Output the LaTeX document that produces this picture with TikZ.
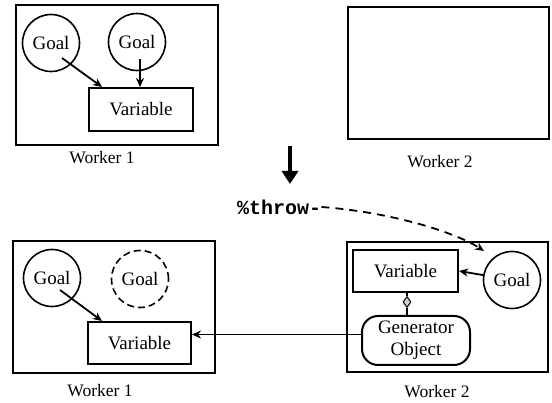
\documentclass[tikz,border=0pt]{standalone}
\usepackage{fontspec}
\setmainfont{Liberation Serif}
\setmonofont{Liberation Mono}
\usetikzlibrary{arrows.meta,shapes.geometric,calc}
\begin{document}
\begin{tikzpicture}[x=1pt,y=-1pt,
  worker/.style={draw,line width=2.6pt,inner sep=0pt},
  goal/.style={draw,circle,line width=1.6pt,minimum size=57pt,inner sep=0pt,font=\fontsize{19}{21}\selectfont},
  var/.style={draw,rectangle,line width=2pt,inner sep=0pt,font=\fontsize{19}{21}\selectfont},
  caption/.style={font=\fontsize{17.5}{20}\selectfont,inner sep=0pt},
  arr/.style={line width=1.8pt,-{Stealth[length=9pt,width=8pt]}}]
\useasboundingbox (0,0) rectangle (552,403);

% workers before the throw
\node[worker,minimum width=202pt,minimum height=140pt] (w1a) at (117,75) {};
\node[worker,minimum width=201pt,minimum height=132pt] (w2a) at (448.5,73) {};
\node[caption] (c1a) at (102,158) {Worker 1};
\node[caption] (c2a) at (440,162) {Worker 2};

\node[goal] (g1) at (51,43) {Goal};
\node[goal] (g2) at (137,42) {Goal};
\node[var,minimum width=104pt,minimum height=43pt] (v1) at (141,109.5) {Variable};
\draw[arr] ([shift={(11,15)}]g1.center) -- ([xshift=14pt]v1.north west);
\draw[arr] ([shift={(3,17)}]g2.center) -- ([xshift=-1pt]v1.north);

% transition
\coordinate (dtop) at (290,146);
\coordinate (dbot) at (290,184);
\draw[line width=4.5pt,-{Triangle[length=13pt,width=16pt]}] (dtop) -- (dbot);
\node[font=\ttfamily\bfseries\fontsize{20}{22}\selectfont,inner sep=0pt,anchor=west] (throw) at (237,207) {\%throw-};

% workers after the throw
\node[worker,minimum width=202pt,minimum height=132pt] (w1b) at (114,307) {};
\node[worker,minimum width=201pt,minimum height=130pt] (w2b) at (447.5,307) {};
\node[caption] (c1b) at (100,391) {Worker 1};
\node[caption] (c2b) at (437,392) {Worker 2};

\node[goal] (g3) at (52,278) {Goal};
\node[goal,dashed,dash pattern=on 7pt off 4pt] (g4) at (140,279) {Goal};
\node[var,minimum width=103pt,minimum height=42pt] (v2) at (139.5,343) {Variable};
\draw[arr] ([shift={(8,12)}]g3.center) -- ([xshift=15pt]v2.north west);

\node[var,minimum width=105pt,minimum height=42pt] (v3) at (405.5,271) {Variable};
\node[goal] (g5) at (512,280) {Goal};
\node[draw,rounded corners=16pt,line width=2pt,minimum width=108pt,minimum height=49pt,inner sep=0pt,align=center,font=\fontsize{19}{22}\selectfont] (gen) at (416,340.5) {Generator\\Object};
\draw[arr] (g5) -- (v3.east);

\node[draw,diamond,line width=1pt,fill=gray!35,minimum width=8pt,minimum height=11pt,inner sep=0pt] (dia) at (407,302) {};
\draw[line width=1.4pt] (v3.south -| dia) -- (dia.north);
\draw[line width=1.4pt] (dia.south) -- (gen.north -| dia);

\coordinate (gw) at ([yshift=6pt]gen.west);
\draw[arr] (gw) -- (gw -| v2.east);

\coordinate (land) at (484,251);
\draw[line width=1.8pt,dash pattern=on 8pt off 6pt,-{Stealth[length=9pt,width=8pt]}] (throw.east) .. controls (390,212) and (455,232) .. (land);
\end{tikzpicture}
\end{document}
